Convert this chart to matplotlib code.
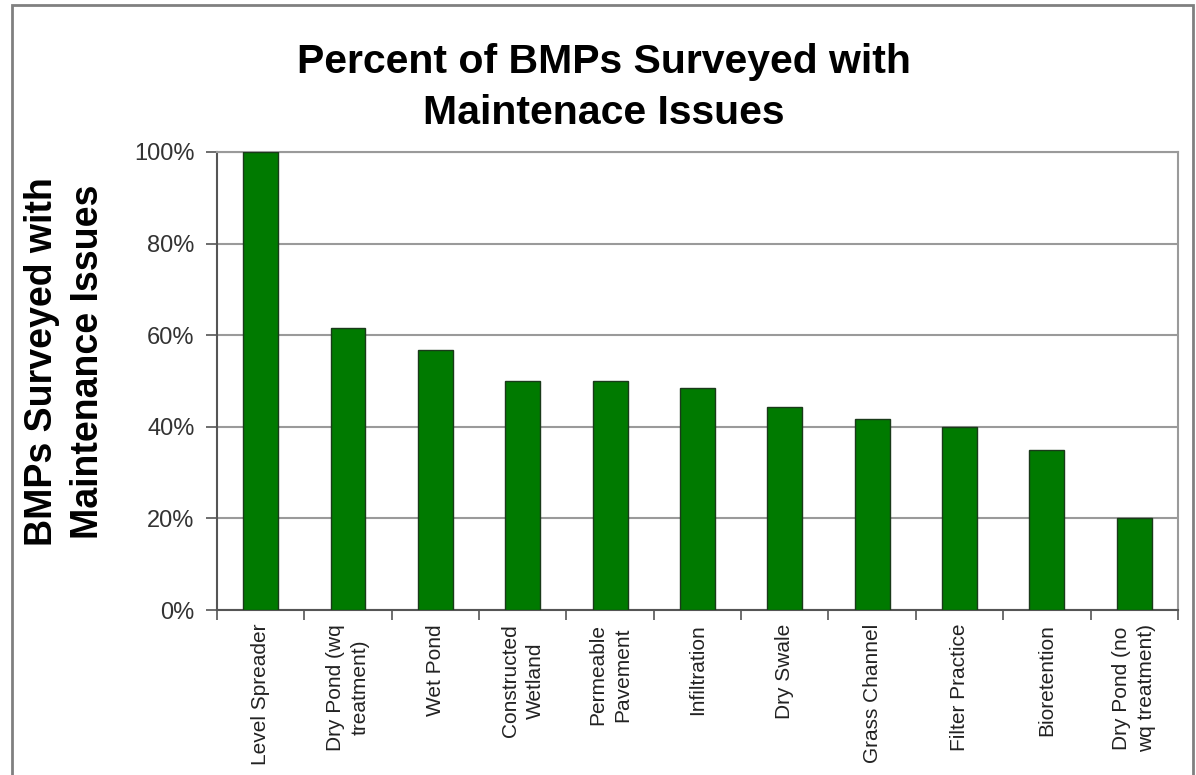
import numpy as np
import matplotlib
matplotlib.use("Agg")
import matplotlib.pyplot as plt
from matplotlib.patches import Rectangle
from matplotlib.ticker import PercentFormatter

# --- data ---
categories = [
    "Level Spreader", "Dry Pond (wq\ntreatment)", "Wet Pond", "Constructed\nWetland",
    "Permeable\nPavement", "Infiltration", "Dry Swale", "Grass Channel",
    "Filter Practice", "Bioretention", "Dry Pond (no\nwq treatment)",
]
pct_issues = [100, 61.5, 56.7, 50.0, 50.0, 48.5, 44.3, 41.7, 40.0, 35.0, 20.0]
y_ticks = [0, 20, 40, 60, 80, 100]

plt.rcParams['font.family'] = ['Liberation Sans', 'DejaVu Sans']

fig = plt.figure(figsize=(11.96, 7.75), dpi=100)
ax = fig.add_axes([0.1814, 0.2129, 0.8035, 0.591])

x = np.arange(len(categories))
ax.bar(x, pct_issues, width=0.4, color="#007a00", edgecolor="#1a3a1a", linewidth=1.0, zorder=3)

ax.set_xlim(-0.5, len(categories) - 0.5)
ax.set_ylim(0, 100)
ax.set_yticks(y_ticks)
ax.yaxis.set_major_formatter(PercentFormatter(decimals=0))
ax.yaxis.grid(True, color="#9a9a9a", linewidth=1.5, zorder=0)

# category labels centered, tick marks between categories
ax.set_xticks(x)
ax.set_xticklabels(categories, rotation=90, fontsize=15, color="#222222",
                   linespacing=1.4, va="top")
ax.tick_params(axis="x", length=0, pad=10)
ax.set_xticks(np.arange(-0.5, len(categories) + 0.5, 1), minor=True)
ax.tick_params(axis="x", which="minor", length=7, width=1.2, color="#555555", direction="out")
ax.tick_params(axis="y", length=8, width=1.2, color="#555555", labelsize=17,
               labelcolor="#333333", pad=8)

for side in ["top", "right"]:
    ax.spines[side].set_color("#9a9a9a")
    ax.spines[side].set_linewidth(1.5)
ax.spines["left"].set_color("#555555")
ax.spines["bottom"].set_color("#555555")
ax.spines["left"].set_linewidth(1.5)
ax.spines["bottom"].set_linewidth(1.5)

# y label placed in figure coords (it sits a little above the axes centre)
fig.text(0.0545, 0.533, "BMPs Surveyed with\nMaintenance Issues", rotation=90,
         ha="center", va="center", fontsize=27, fontweight="bold", linespacing=1.35)

fig.text(0.505, 0.887, "Percent of BMPs Surveyed with\nMaintenace Issues", ha="center",
         va="center", fontsize=29.5, fontweight="bold", linespacing=1.45)

# outer chart border (open at the bottom, cut by the image edge)
fig.patches.append(Rectangle((12 / 1196, -0.05), (1193 - 12) / 1196, 1 - 5 / 775 + 0.05,
                             transform=fig.transFigure, fill=False,
                             edgecolor="#808080", linewidth=2))

fig.savefig("out.png", dpi=100, facecolor="white")
